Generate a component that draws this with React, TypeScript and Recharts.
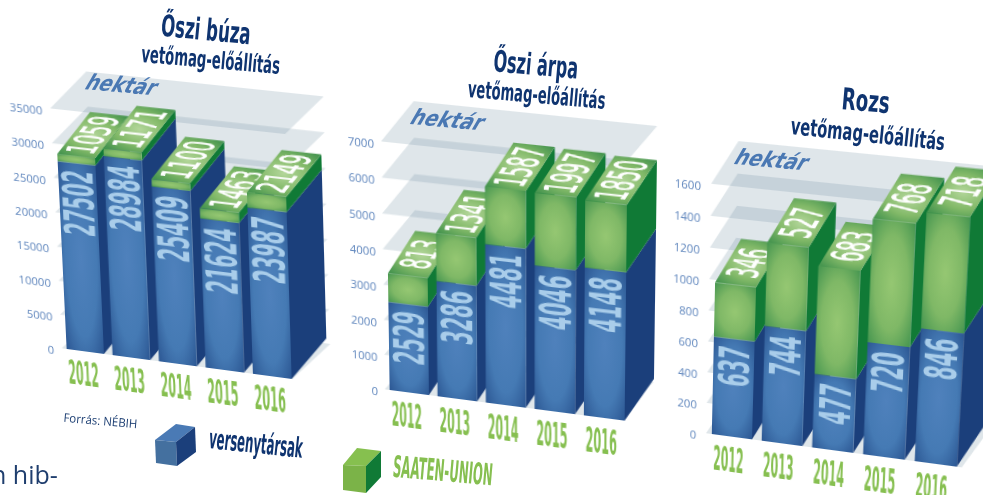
import { BarChart, Bar, XAxis, YAxis, CartesianGrid } from 'recharts'

const years = ['2012', '2013', '2014', '2015', '2016']

const buzaRivals = [27502, 28984, 25409, 21624, 23987]
const buzaSaaten = [1059, 1171, 1100, 1463, 2149]
const buzaTicks = [0, 5000, 10000, 15000, 20000, 25000, 30000, 35000]

const arpaRivals = [2529, 3286, 4481, 4046, 4148]
const arpaSaaten = [813, 1341, 1587, 1997, 1850]
const arpaTicks = [0, 1000, 2000, 3000, 4000, 5000, 6000, 7000]

const rozsRivals = [637, 744, 477, 720, 846]
const rozsSaaten = [346, 527, 683, 768, 718]
const rozsTicks = [0, 200, 400, 600, 800, 1000, 1200, 1400, 1600]

const CHART_W = 380
const CHART_H = 360
const PLOT_LEFT = 60
const PLOT_TOP = 70
const PLOT_H = 240

const TITLE_FONT = '"DejaVu Sans", sans-serif'
const TICK_FONT = '"Open Sans", sans-serif'
const GREEN_TEXT = '#86bf50'
const NAVY = '#0f3470'

type Pt = [number, number]

// solves the 4 point homography so the flat chart can be laid onto the slanted floor
function quadMatrix(src: Pt[], dst: Pt[]) {
  const a: number[][] = []
  src.forEach(([x, y], i) => {
    const [u, v] = dst[i]
    a.push([x, y, 1, 0, 0, 0, -x * u, -y * u, u])
    a.push([0, 0, 0, x, y, 1, -x * v, -y * v, v])
  })
  for (let c = 0; c < 8; c++) {
    let p = c
    for (let r = c + 1; r < 8; r++) if (Math.abs(a[r][c]) > Math.abs(a[p][c])) p = r
    ;[a[c], a[p]] = [a[p], a[c]]
    for (let r = 0; r < 8; r++) {
      if (r === c) continue
      const f = a[r][c] / a[c][c]
      for (let k = c; k < 9; k++) a[r][k] -= f * a[c][k]
    }
  }
  const h = a.map((row, i) => row[8] / row[i])
  return `matrix3d(${h[0]},${h[3]},0,${h[6]},${h[1]},${h[4]},0,${h[7]},0,0,1,0,${h[2]},${h[5]},0,1)`
}

function Block(props: any) {
  const { x, y, width: w, height: h, payload, dataKey, kind, depth } = props
  if (!h || h <= 0) return null
  const [dx, dy] = depth
  const value = payload[dataKey]
  const digits = String(value).length
  const side = `${x + w},${y} ${x + w + dx},${y + dy} ${x + w + dx},${y + h + dy} ${x + w},${y + h}`
  if (kind === 'rivals') {
    return (
      <g>
        <polygon points={side} fill="#1b3f7b" />
        <rect x={x} y={y} width={w} height={h} fill="url(#faceBlue)" />
        <text
          transform={`translate(${x + w / 2},${y + 7}) rotate(-90)`}
          textAnchor="end"
          dy="0.36em"
          fontFamily={TITLE_FONT}
          fontWeight="bold"
          fontSize={43}
          fill="#a9cdea"
          textLength={digits * 13}
          lengthAdjust="spacingAndGlyphs"
        >
          {value}
        </text>
      </g>
    )
  }
  const top = `${x},${y} ${x + w},${y} ${x + w + dx},${y + dy} ${x + dx},${y + dy}`
  // label lies flat on the top face, running towards the back
  const font = 40
  const adv = 0.22
  const ux = (dx * adv) / (0.636 * font)
  const uy = (dy * adv) / (0.636 * font)
  const vx = (w * 0.74) / (0.73 * font)
  const cx = x + w / 2 + dx / 2
  const cy = y + dy / 2
  return (
    <g>
      <polygon points={side} fill="#107a36" />
      <rect x={x} y={y} width={w} height={h} fill="url(#faceGreen)" />
      <polygon points={top} fill="url(#topGreen)" />
      <text
        transform={`matrix(${ux},${uy},${vx},0,${cx},${cy})`}
        textAnchor="middle"
        dy="0.36em"
        fontFamily={TITLE_FONT}
        fontSize={font}
        fill="#ffffff"
        stroke="#ffffff"
        strokeWidth={1}
      >
        {value}
      </text>
    </g>
  )
}

function YearTick({ x, y, payload }: any) {
  return (
    <text
      x={x - 3}
      y={y + 27}
      textAnchor="middle"
      fontFamily={TITLE_FONT}
      fontWeight="bold"
      fontSize={33}
      fill={GREEN_TEXT}
      textLength={31}
      lengthAdjust="spacingAndGlyphs"
    >
      {payload.value}
    </text>
  )
}

interface PanelProps {
  rivals: number[]
  saaten: number[]
  ticks: number[]
  barW: number
  step: number
  depth: Pt
  planeDepth: Pt
  planeTrim: number
  tickGap: number
  quad: Pt[]
}

function Panel({ rivals, saaten, ticks, barW, step, depth, planeDepth, planeTrim, tickGap, quad }: PanelProps) {
  const table = years.map((year, i) => {
    const row: Record<string, string | number> = { year }
    years.forEach((other, j) => {
      row[`rivals${other}`] = i === j ? rivals[i] : 0
      row[`saaten${other}`] = i === j ? saaten[i] : 0
    })
    return row
  })
  const plotW = step * 5
  const gap = (step - barW) / 2
  const x0 = PLOT_LEFT + gap
  const x1 = PLOT_LEFT + plotW - gap
  const flat: Pt[] = [
    [x0, PLOT_TOP],
    [x1, PLOT_TOP],
    [x1, PLOT_TOP + PLOT_H],
    [x0, PLOT_TOP + PLOT_H],
  ]
  const plane = ({ x1: a, x2: b, y1: yy, key }: any) => (
    <path
      key={key}
      d={`M${a - 1},${yy} L${b + planeTrim},${yy} L${b + planeTrim + planeDepth[0]},${yy + planeDepth[1]} L${a - 1 + planeDepth[0]},${yy + planeDepth[1]} Z`}
      fill="#5f8298"
      fillOpacity={0.2}
    />
  )
  return (
    <div
      style={{
        position: 'absolute',
        left: 0,
        top: 0,
        transformOrigin: '0 0',
        transform: quadMatrix(flat, quad),
      }}
    >
      <BarChart
        width={CHART_W}
        height={CHART_H}
        data={table}
        margin={{ top: PLOT_TOP, left: 0, bottom: 0, right: CHART_W - PLOT_LEFT - plotW }}
      >
        <CartesianGrid vertical={false} horizontal={plane} />
        <XAxis
          dataKey="year"
          height={CHART_H - PLOT_TOP - PLOT_H}
          axisLine={false}
          tickLine={false}
          tick={YearTick}
          interval={0}
        />
        <YAxis
          width={PLOT_LEFT}
          domain={[ticks[0], ticks[ticks.length - 1]]}
          ticks={ticks}
          interval={0}
          axisLine={false}
          tickLine={false}
          tickSize={0}
          tickMargin={tickGap}
          tick={{ fill: '#5f86bd', fontSize: 11.5, fontFamily: TICK_FONT, dy: 3 }}
        />
        {years.flatMap((year) => [
          <Bar
            key={`rivals${year}`}
            dataKey={`rivals${year}`}
            stackId="a"
            barSize={barW}
            isAnimationActive={false}
            shape={(p: any) => <Block {...p} dataKey={`rivals${year}`} kind="rivals" depth={depth} />}
          />,
          <Bar
            key={`saaten${year}`}
            dataKey={`saaten${year}`}
            stackId="a"
            barSize={barW}
            isAnimationActive={false}
            shape={(p: any) => <Block {...p} dataKey={`saaten${year}`} kind="saaten" depth={depth} />}
          />,
        ])}
      </BarChart>
    </div>
  )
}

function Slanted({ x, y, rot, len, size, fill, children, weight = 'normal', font = TITLE_FONT, skew = 0 }: any) {
  return (
    <text
      transform={`translate(${x},${y}) rotate(${rot}) skewX(${skew})`}
      textAnchor="middle"
      fontFamily={font}
      fontSize={size}
      fontWeight={weight}
      fill={fill}
      textLength={len}
      lengthAdjust="spacingAndGlyphs"
    >
      {children}
    </text>
  )
}

function Gradients() {
  return (
    <svg width={0} height={0} style={{ position: 'absolute' }}>
      <defs>
        <radialGradient id="faceBlue" cx="50%" cy="50%" r="70%">
          <stop offset="0%" stopColor="#4f81bc" />
          <stop offset="60%" stopColor="#457ab4" />
          <stop offset="100%" stopColor="#2c5793" />
        </radialGradient>
        <radialGradient id="faceGreen" cx="50%" cy="50%" r="70%">
          <stop offset="0%" stopColor="#95c772" />
          <stop offset="55%" stopColor="#7fb866" />
          <stop offset="100%" stopColor="#469650" />
        </radialGradient>
        <radialGradient id="topGreen" cx="50%" cy="50%" r="65%">
          <stop offset="0%" stopColor="#b3d69a" />
          <stop offset="55%" stopColor="#82b968" />
          <stop offset="100%" stopColor="#489650" />
        </radialGradient>
      </defs>
    </svg>
  )
}

export default function App() {
  return (
    <div style={{ position: 'absolute', left: 0, top: 0, width: 983, height: 495, overflow: 'hidden', background: '#fff' }}>
      <Gradients />
      <Panel
        rivals={buzaRivals}
        saaten={buzaSaaten}
        ticks={buzaTicks}
        barW={38}
        step={46.75}
        depth={[35, -45]}
        planeDepth={[38, -40]}
        planeTrim={-4}
        tickGap={9}
        quad={[[55.5, 109], [284.7, 134], [292, 379], [67, 349]]}
      />
      <Panel
        rivals={arpaRivals}
        saaten={arpaSaaten}
        ticks={arpaTicks}
        barW={40}
        step={48.75}
        depth={[28, -44]}
        planeDepth={[33, -41]}
        planeTrim={-10}
        tickGap={8}
        quad={[[386.4, 142], [627.7, 167.7], [625, 420.7], [390, 390]]}
      />
      <Panel
        rivals={rozsRivals}
        saaten={rozsSaaten}
        ticks={rozsTicks}
        barW={41}
        step={50.8}
        depth={[25, -44]}
        planeDepth={[26, -42]}
        planeTrim={0}
        tickGap={11}
        quad={[[717.1, 184.4], [970.3, 210.9], [956.7, 466.7], [711.7, 434]]}
      />
      <svg width={983} height={495} style={{ position: 'absolute', left: 0, top: 0 }}>
        <Slanted x={205} y={40} rot={5.5} len={90} size={30} weight="bold" fill={NAVY}>Őszi búza</Slanted>
        <Slanted x={210} y={68} rot={5} len={139} size={24} weight="bold" fill={NAVY}>vetőmag-előállítás</Slanted>
        <Slanted x={535} y={75} rot={5} len={85} size={30} weight="bold" fill={NAVY}>Őszi árpa</Slanted>
        <Slanted x={536} y={103} rot={5} len={138} size={24} weight="bold" fill={NAVY}>vetőmag-előállítás</Slanted>
        <Slanted x={865} y={111} rot={5} len={48} size={30} weight="bold" fill={NAVY}>Rozs</Slanted>
        <Slanted x={867} y={142} rot={6} len={155} size={24} weight="bold" fill={NAVY}>vetőmag-előállítás</Slanted>

        <Slanted x={118} y={92} rot={5} len={70} size={22} weight="bold" skew={-25} fill="#4a78b3">hektár</Slanted>
        <Slanted x={444} y={127} rot={5} len={72} size={22} weight="bold" skew={-25} fill="#4a78b3">hektár</Slanted>
        <Slanted x={768} y={167} rot={5} len={72} size={22} weight="bold" skew={-25} fill="#4a78b3">hektár</Slanted>

        <Slanted x={100} y={425} rot={5} len={74} size={12} font={TICK_FONT} fill="#1d3f73">Forrás: NÉBIH</Slanted>

        <polygon points="155,440 176,442 195,427 176,424" fill="#4a7ab5" />
        <polygon points="155,440 176,442 177,466 156,463" fill="#44709f" />
        <polygon points="176,442 195,427 196,452 177,466" fill="#1b3f7b" />
        <Slanted x={255} y={453} rot={6} len={94} size={28} weight="bold" fill={NAVY}>versenytársak</Slanted>

        <polygon points="343,465 366,466 381,451 357,448" fill="#86c04f" />
        <polygon points="343,465 366,466 366,493 343,490" fill="#7bb348" />
        <polygon points="366,466 381,451 381,477 366,493" fill="#107a36" />
        <Slanted x={442} y={481} rot={5} len={100} size={30} weight="bold" fill={GREEN_TEXT}>SAATEN-UNION</Slanted>

        <text x={-9} y={484} fontFamily={TICK_FONT} fontSize={25} fill="#1f3e6e">n hib-</text>
      </svg>
    </div>
  )
}
